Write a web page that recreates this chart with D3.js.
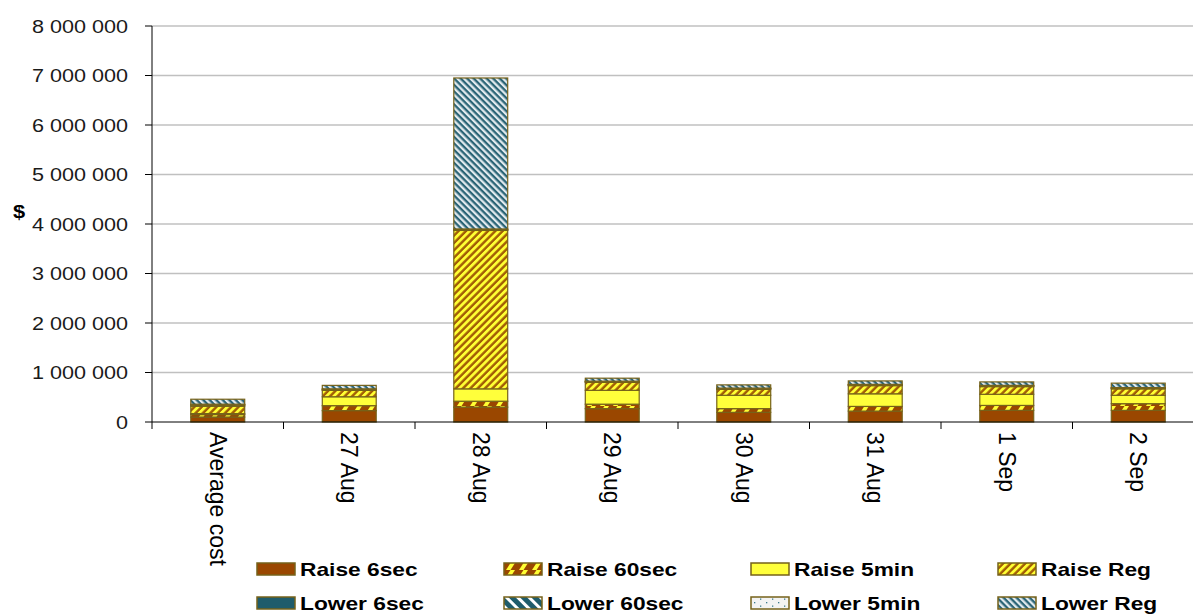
<!DOCTYPE html>
<html>
<head>
<meta charset="utf-8">
<script src="https://cdn.jsdelivr.net/npm/d3@7"></script>
<style>
  body { margin: 0; background: #fff; }
  text { font-family: "Liberation Sans", Arial, sans-serif; fill: #000; }
  .legend text { font-weight: bold; font-size: 18.5px; }
</style>
</head>
<body>
<svg width="1193" height="614"></svg>
<script>
// data
var categories = ["Average cost", "27 Aug", "28 Aug", "29 Aug", "30 Aug", "31 Aug", "1 Sep", "2 Sep"];
var seriesNames = ["Raise 6sec", "Raise 60sec", "Raise 5min", "Raise Reg",
                   "Lower 6sec", "Lower 60sec", "Lower 5min", "Lower Reg"];
var raise6sec  = [100000, 230000,  300000, 270000, 195000, 220000, 235000, 235000];
var raise60sec = [ 50000, 100000,  120000,  90000,  75000,  95000, 100000, 135000];
var raise5min  = [ 20000, 180000,  250000, 280000, 270000, 255000, 225000, 170000];
var raiseReg   = [150000, 130000, 3200000, 160000, 120000, 165000, 155000, 130000];
var lower6sec  = [ 20000,  10000,   10000,  10000,  10000,  10000,  10000,  10000];
var lower60sec = [ 10000,  10000,   10000,  10000,  10000,  10000,  10000,  10000];
var lower5min  = [ 10000,  10000,   10000,   5000,   5000,   5000,   5000,   5000];
var lowerReg   = [100000,  70000, 3050000,  60000,  65000,  70000,  70000,  90000];
var yTicks = [0, 1000000, 2000000, 3000000, 4000000, 5000000, 6000000, 7000000, 8000000];

var allSeries = [raise6sec, raise60sec, raise5min, raiseReg, lower6sec, lower60sec, lower5min, lowerReg];
var rows = categories.map(function(c, i) {
    var r = { cat: c };
    seriesNames.forEach(function(s, k) { r[s] = allSeries[k][i]; });
    return r;
});

var svg = d3.select("svg");
var plotL = 152, plotR = 1204, plotT = 26, plotB = 422;
var edge = "#76621a";

var x = d3.scaleBand().domain(categories).range([plotL, plotR]);
var y = d3.scaleLinear().domain([0, 8000000]).range([plotB, plotT]);
var barW = x.bandwidth() * 0.41;

// patterns
var defs = svg.append("defs");
function stripes(id, bg, fg, size, fgW, angle) {
    var p = defs.append("pattern").attr("id", id).attr("patternUnits", "userSpaceOnUse")
        .attr("width", size).attr("height", size)
        .attr("patternTransform", "rotate(" + angle + ")");
    p.append("rect").attr("width", size).attr("height", size).attr("fill", bg);
    p.append("rect").attr("width", fgW).attr("height", size).attr("fill", fg);
}
stripes("pRaiseReg", "#a15c05", "#ffff33", 5.2, 2.8, 45);
stripes("pLower60", "#1f5c6b", "#ffffff", 8, 3, -45);
stripes("pLowerReg", "#2a6476", "#e2eaee", 4.6, 2.3, -45);

var p60 = defs.append("pattern").attr("id", "pRaise60").attr("patternUnits", "userSpaceOnUse")
    .attr("width", 13).attr("height", 7);
p60.append("rect").attr("width", 13).attr("height", 7).attr("fill", "#9a4700");
p60.append("polygon").attr("points", "2,7 6.5,7 11,0 6.5,0").attr("fill", "#ffff33");

var p5 = defs.append("pattern").attr("id", "pLower5").attr("patternUnits", "userSpaceOnUse")
    .attr("width", 12).attr("height", 7);
p5.append("rect").attr("width", 12).attr("height", 7).attr("fill", "#f3f3f3");
p5.append("rect").attr("x", 3).attr("y", 5).attr("width", 1.3).attr("height", 1.3).attr("fill", "#3a7a8c");
p5.append("rect").attr("x", 9).attr("y", 1.5).attr("width", 1.3).attr("height", 1.3).attr("fill", "#3a7a8c");

var fills = {
    "Raise 6sec": "#9a4700",
    "Raise 60sec": "url(#pRaise60)",
    "Raise 5min": "#ffff3b",
    "Raise Reg": "url(#pRaiseReg)",
    "Lower 6sec": "#1f5c6b",
    "Lower 60sec": "url(#pLower60)",
    "Lower 5min": "url(#pLower5)",
    "Lower Reg": "url(#pLowerReg)"
};

// gridlines
svg.append("g").selectAll("line").data(yTicks.filter(function(d) { return d > 0; }))
    .enter().append("line")
    .attr("x1", plotL).attr("x2", plotR)
    .attr("y1", function(d) { return y(d); }).attr("y2", function(d) { return y(d); })
    .attr("stroke", "#c0c0c0").attr("stroke-width", 1.3);

// stacked bars
var stack = d3.stack().keys(seriesNames)(rows);
svg.append("g").selectAll("g").data(stack).enter().append("g")
    .attr("fill", function(d) { return fills[d.key]; })
    .selectAll("rect").data(function(d) { return d; }).enter().append("rect")
    .attr("x", function(d) { return x(d.data.cat) + (x.bandwidth() - barW) / 2; })
    .attr("width", barW)
    .attr("y", function(d) { return y(d[1]); })
    .attr("height", function(d) { return y(d[0]) - y(d[1]); })
    .attr("stroke", edge).attr("stroke-width", 1.2);

// y axis
var fmt = function(v) { return d3.format(",")(v).replace(/,/g, " "); };
var yAxis = svg.append("g");
yAxis.append("line").attr("x1", plotL).attr("x2", plotL).attr("y1", plotT).attr("y2", plotB + 7)
    .attr("stroke", "#000");
yAxis.selectAll("line.t").data(yTicks).enter().append("line").attr("class", "t")
    .attr("x1", plotL - 7).attr("x2", plotL)
    .attr("y1", function(d) { return y(d); }).attr("y2", function(d) { return y(d); })
    .attr("stroke", "#000");
yAxis.selectAll("text").data(yTicks).enter().append("text")
    .attr("transform", function(d) { return "translate(128," + (y(d) + 6.5) + ") scale(1.2,1)"; })
    .attr("text-anchor", "end").style("font-size", "18px").style("fill", "#1a1a1a")
    .text(fmt);

svg.append("text").attr("transform", "translate(19,218) scale(1.15,1)")
    .attr("text-anchor", "middle").style("font-size", "19px").style("font-weight", "bold")
    .text("$");

// x axis
var xAxis = svg.append("g");
xAxis.append("line").attr("x1", plotL).attr("x2", plotR).attr("y1", plotB).attr("y2", plotB)
    .attr("stroke", "#000");
xAxis.selectAll("line.t").data(categories).enter().append("line").attr("class", "t")
    .attr("x1", function(d) { return x(d) + x.bandwidth(); })
    .attr("x2", function(d) { return x(d) + x.bandwidth(); })
    .attr("y1", plotB).attr("y2", plotB + 7).attr("stroke", "#000");
xAxis.selectAll("text").data(categories).enter().append("text")
    .attr("transform", function(d) {
        return "translate(" + (x(d) + x.bandwidth() / 2) + "," + (plotB + 10) + ") rotate(90)";
    })
    .attr("dy", "0.35em").style("font-size", "23px")
    .text(function(d) { return d; });

// legend
var lg = svg.append("g").attr("class", "legend").selectAll("g").data(seriesNames).enter().append("g")
    .attr("transform", function(d, i) {
        return "translate(" + (257 + (i % 4) * 247) + "," + (563 + Math.floor(i / 4) * 34) + ")";
    });
lg.append("rect").attr("width", 38).attr("height", 12)
    .attr("fill", function(d) { return fills[d]; })
    .attr("stroke", edge).attr("stroke-width", 1.5);
lg.append("text").attr("transform", "translate(43,13) scale(1.23,1)")
    .text(function(d) { return d; });
</script>
</body>
</html>
